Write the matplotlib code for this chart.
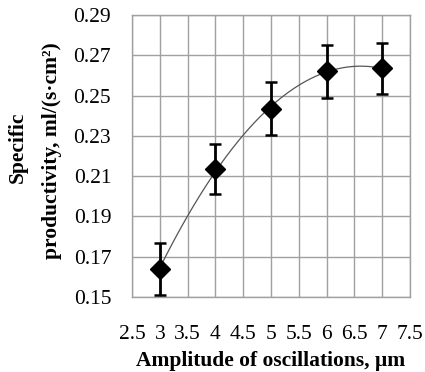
import matplotlib
matplotlib.use("Agg")
import matplotlib.pyplot as plt
import numpy as np

plt.rcParams['font.family'] = ['Liberation Serif', 'DejaVu Serif']

# data
amplitude = np.array([3, 4, 5, 6, 7])
productivity = np.array([0.164, 0.2135, 0.2435, 0.262, 0.2635])
error = np.array([0.013, 0.0125, 0.013, 0.013, 0.0128])

x_ticks = [2.5, 3, 3.5, 4, 4.5, 5, 5.5, 6, 6.5, 7, 7.5]
y_ticks = [0.15, 0.17, 0.19, 0.21, 0.23, 0.25, 0.27, 0.29]

W, H = 425, 372
fig = plt.figure(figsize=(W / 100, H / 100), dpi=100)
ax = fig.add_axes([132 / W, 1 - 297 / H, (410 - 132) / W, (297 - 15) / H])

# polynomial trend line
coef = np.polyfit(amplitude, productivity, 2)
xs = np.linspace(3, 7, 200)
ax.plot(xs, np.polyval(coef, xs), color='#555555', lw=0.9, zorder=2)

ax.errorbar(amplitude, productivity, yerr=error, fmt='D', color='black',
            ms=10, ecolor='black', elinewidth=2, capsize=4, capthick=1.8, zorder=3)

ax.set_xlim(2.5, 7.5)
ax.set_ylim(0.15, 0.29)
ax.set_xticks(x_ticks)
ax.set_xticklabels(['2.5', '3', '3.5', '4', '4.5', '5', '5.5', '6', '6.5', '7', '7.5'])
ax.set_yticks(y_ticks)
ax.set_yticklabels([f"{v:.2f}" for v in y_ticks])
ax.tick_params(axis='x', length=0, pad=20, labelsize=15.5)
ax.tick_params(axis='y', length=0, pad=15, labelsize=15.5)
ax.grid(True, color='#a0a0a0', lw=1)
ax.set_axisbelow(True)
for s in ax.spines.values():
    s.set_color('#a0a0a0')
    s.set_linewidth(1)

fig.text(271 / W, 6 / H, 'Amplitude of oscillations, μm', fontweight='bold',
         fontsize=15.5, ha='center', va='baseline')
fig.text(18 / W, 1 - 147 / H, 'Specific', fontweight='bold', fontsize=15.5,
         rotation=90, ha='center', va='center')
fig.text(52 / W, 1 - 151 / H, 'productivity, ml/(s·cm²)', fontweight='bold',
         fontsize=15.5, rotation=90, ha='center', va='center')

fig.savefig('out.png', dpi=100)
